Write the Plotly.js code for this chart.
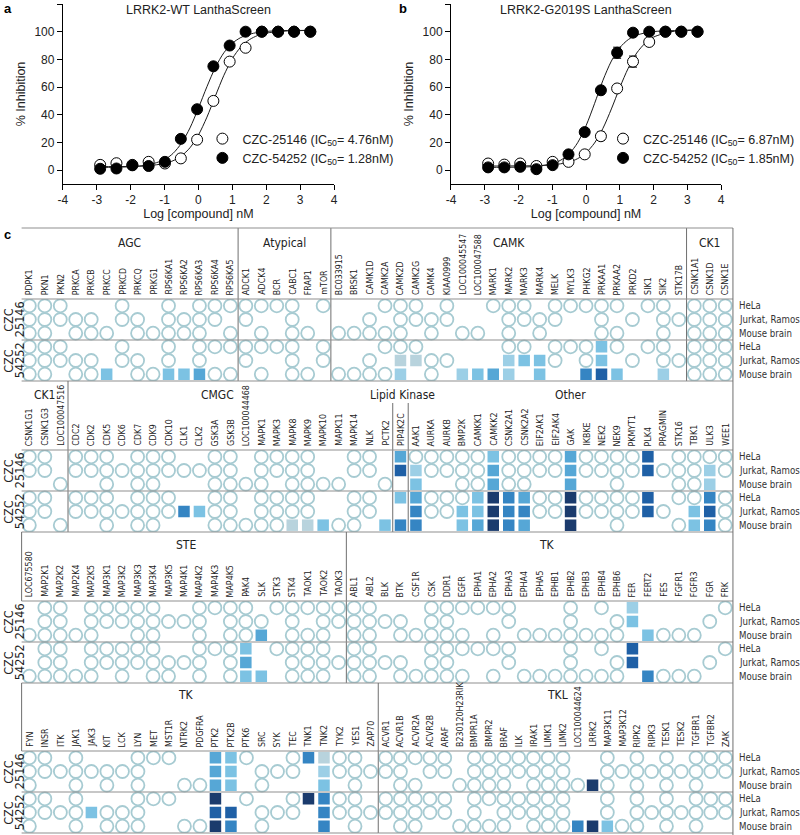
<!DOCTYPE html>
<html><head><meta charset="utf-8">
<script src="https://cdn.plot.ly/plotly-3.0.1.min.js"></script>
<style>body{margin:0;background:#fff;} #chart{width:800px;height:835px;}</style>
</head><body><div id="chart"></div>
<script>
// ---------- Panel a / b : dose response ----------
const logConc = [-2.90,-2.42,-1.95,-1.47,-0.99,-0.52,-0.04,0.44,0.92,1.39,1.87,2.35,2.82,3.30];
const aOpen   = [3.8,5.0,3.8,6.0,4.8,8.5,22,50,78.4,88.4,100,100,100,100];
const aFilled = [1.0,1.2,3.5,3.0,6.0,22.6,44,75,90,100,100,100,100,100];
const bOpen   = [4.8,4.0,4.8,3.0,6.0,6.0,11.4,24.5,59,78.4,92.6,100,100,100];
const bOpenErr   = [0,0,0,0,0,0,0,3,0,4,0,0,0,0];
const bFilled = [2.0,2.0,2.4,0.7,3.6,11.4,27.5,57.7,84.8,99.3,100,100,100,100];
const bFilledErr = [0,0,0,0,0,0,0,0,4,0,0,0,0,0];
const fitX       = [-2.9,-2.5,-2,-1.5,-1,-0.75,-0.5,-0.25,0,0.25,0.5,0.75,1,1.25,1.5,1.75,2,2.5,3,3.3];
const aOpenFit   = [2.5,2.6,2.7,3.2,4.8,6.8,10.3,16.2,25.4,38.3,53.6,68.5,80.6,89.0,94.2,97.3,99.0,100.4,100.8,100.9];
const aFilledFit = [2.0,2.1,2.5,3.7,7.6,12.1,19.5,30.5,44.9,60.3,74.3,84.8,91.7,95.8,98.1,99.5,100.2,100.8,100.9,101];
const bOpenFit   = [3.0,3.0,3.1,3.2,3.8,4.6,5.9,8.3,12.6,19.6,30.2,44.2,59.7,73.7,84.6,91.7,96.1,99.9,101.1,101.3];
const bFilledFit = [2.0,2.1,2.2,2.7,4.7,7.2,11.8,19.8,32.1,48.0,64.9,78.8,88.5,94.3,97.5,99.1,100.1,100.7,100.9,101];
const xTickVals = [-4,-3,-2,-1,0,1,2,3,4];
const xTickText = ['-4','-3','-2','-1','0','1','2','3','4'];
const yTickVals = [0,20,40,60,80,100,120];
const legA = ['CZC-25146 (IC<sub>50</sub>= 4.76nM)','CZC-54252 (IC<sub>50</sub>= 1.28nM)'];
const legB = ['CZC-25146 (IC<sub>50</sub>= 6.87nM)','CZC-54252 (IC<sub>50</sub>= 1.85nM)'];

// ---------- Panel c : kinase selectivity grid ----------
// codes per kinase: 6 rows = [25146 HeLa, 25146 Jurkat, 25146 Mouse, 54252 HeLa, 54252 Jurkat, 54252 Mouse]
// 'o' = open circle, '.' = empty, '1'..'7' = square shade level
const samples = ['HeLa','Jurkat, Ramos','Mouse brain'];
const compoundPrefix = 'CZC';
const compoundIds = ['25146','54252'];

const b1Names = ['PDPK1','PKN1','PKN2','PRKCA','PRKCB','PRKCC','PRKCD','PRKCQ','PRKG1','RPS6KA1','RPS6KA2','RPS6KA3','RPS6KA4','RPS6KA5',
 'ADCK1','ADCK4','BCR','CABC1','FRAP1','mTOR',
 'BC033915','BRSK1','CAMK1D','CAMK2A','CAMK2D','CAMK2G','CAMK4','KIAA0999','LOC100045547','LOC100047588','MARK1','MARK2','MARK3','MARK4','MELK','MYLK3','PHKG2','PRKAA1','PRKAA2','PRKD2','SIK1','SIK2','STK17B',
 'CSNK1A1','CSNK1D','CSNK1E'];
const b1Codes = ['oooooo','oooooo','oo.oo.','.oo.oo','.oo.oo','..o..3','oo.oo.','.oo.oo','..o..o','ooooo3',
 '.oo..3','ooooo4','oo.o.o','o.oo.o','oo.oo.','o.oo.o','o..o..','oooooo','..o..o','o..oo.',
 '..o..o','..o..o','.oo.oo','o.oo.o','oooo12','oo.o1.','.oo.oo','oo..o.','..o..2','..o..3',
 'o....4','oooo22','oo.o3.','.oo.33','oo.oo.','o..o..','o..oo5','ooo336','o.oo.3','.o..o.',
 'o..o..','ooooo2','.o..o.','oooooo','oooooo','oooooo'];
const b1GroupNames = ['AGC','Atypical','CAMK','CK1'];
const b1GroupSizes = [14,6,23,3];

const b2Names = ['CSNK1G1','CSNK1G3','LOC100047516',
 'CDC2','CDK2','CDK5','CDK6','CDK7','CDK9','CDK10','CLK1','CLK2','GSK3A','GSK3B','LOC100044468','MAPK1','MAPK3','MAPK8','MAPK9','MAPK10','MAPK11','MAPK14','NLK','PCTK2',
 'PIP4K2C',
 'AAK1','AURKA','AURKB','BMP2K','CAMKK1','CAMKK2','CSNK2A1','CSNK2A2','EIF2AK1','EIF2AK4','GAK','IKBKE','NEK2','NEK9','PKMYT1','PLK4','PRAGMIN','STK16','TBK1','ULK3','WEE1'];
const b2Codes = ['oo.ooo','oo.oo.','..o..o','oo.oo.','oo.oo.','oooooo','.o..o.','oooooo','oooooo','oo.oo.',
 '.o..5.','.o..3.','oooooo','oooooo','..o..o','oooooo','oo.ooo','ooooo1','ooooo1','..o..3',
 '..o..o','oo.ooo','oo.oo.','..o..3','46.3.5','o23455','oo.oo.','oo.oo.','oooo33','ooo334',
 '344777','ooo555','ooo454','oo.oo.','oo.oo.','444777','oo.oo.','oo.oo.','oooooo','oo.oo.',
 '66.66.','.o..o.','oooo.o','oooo33','o22565','oo.ooo'];
const b2GroupNames = ['CK1','CMGC','Lipid Kinase','Other'];
const b2GroupSizes = [3,21,1,21];

const b3Names = ['LOC675580','MAP2K1','MAP2K2','MAP2K4','MAP2K5','MAP3K1','MAP3K2','MAP3K3','MAP3K4','MAP3K5','MAP4K1','MAP4K2','MAP4K3','MAP4K5','PAK4','SLK','STK3','STK4','TAOK1','TAOK2','TAOK3',
 'ABL1','ABL2','BLK','BTK','CSF1R','CSK','DDR1','EGFR','EPHA1','EPHA2','EPHA3','EPHA4','EPHA5','EPHB1','EPHB2','EPHB3','EPHB4','EPHB6','FER','FERT2','FES','FGFR1','FGFR3','FGR','FRK'];
const b3Codes = ['..o..o','oooooo','oooooo','..o..o','oooooo','oo.oo.','oo.ooo','ooooo.','oooooo','.o..oo',
 '.o..o.','oooooo','o..o..','oooooo','ooo343','.o4..3','o..o..','oooooo','o.oooo','oooooo',
 'oo..o.','oooooo','oooooo','.o..o.','.oo.oo','..o..o','oooooo','oooooo','o.oo.o','o..o..',
 'o.oo.o','oo.oo.','..o..o','..o..o','..o..o','oooooo','..o..o','o.oo.o','.oo.oo','23.66.',
 '..3..5','..o..o','..o..o','..o..o','.o..o.','o..o..'];
const b3GroupNames = ['STE','TK'];
const b3GroupSizes = [21,25];

const b4TkNames = ['FYN','INSR','ITK','JAK1','JAK3','KIT','LCK','LYN','MET','MST1R','NTRK2','PDGFRA','PTK2','PTK2B','PTK6','SRC','SYK','TEC','TNK1','TNK2','TYK2','YES1','ZAP70'];
const b4TkCodes = ['oooooo','oo.oo.','.o..o.','oooooo','.o..3.','.oo.oo','.o..oo','oooooo','o..o..','o..o..',
 '..o..o','..o..o','444767','333.65','o..o..','.oo.oo','.o..o.','oo.oo.','5..7..','123555',
 'oo.oo.','oooooo','.o..o.'];
const b4TklNames = ['ACVR1','ACVR1B','ACVR2A','ACVR2B','ARAF','B230120H23RIK','BMPR1A','BMPR2','BRAF','ILK','IRAK1','LIMK1','LIMK2','LOC100044624','LRRK2','MAP3K11','MAP3K12','RIPK2','RIPK3','TESK1','TESK2','TGFBR1','TGFBR2','ZAK'];
const b4TklCodes = ['oo.oo.','oooooo','o.oooo','oo.oo.','oo.oo.','..o..o','oooooo','oooo.o','oooooo','oo.oo.',
 'oooooo','oooooo','oooooo','..o..5','..7..7','ooooo3','.o...o','oooooo','.o..o.','oooooo',
 '.o..o.','oooooo','oo.oo.','oo.oo.'];

const levelColors = {'1':'#b8d3dd','2':'#9ccfe6','3':'#7cc2e3','4':'#56a7d6','5':'#3585c3','6':'#1f60a6','7':'#1b3b6d'};
const circleColor = '#a7cbd2';

// ---------- build ----------
const W = 800, H = 835;
const px = x => x / W, py = y => 1 - y / H;
const FONT = 'Liberation Sans, Arial, Helvetica, sans-serif';
const NARROW = 'Liberation Sans Narrow, Arial Narrow, DejaVu Sans Condensed, sans-serif';
const traces = [];
const annotations = [];
const shapes = [];

function curve(x, y, xa, ya) {
  return {x, y, mode:'lines', line:{color:'#1a1a1a', width:1, shape:'spline', smoothing:0.8}, xaxis:xa, yaxis:ya, showlegend:false, hoverinfo:'skip'};
}
function pts(x, y, xa, ya, name, filled, leg, err) {
  const t = {x, y, mode:'markers', name, xaxis:xa, yaxis:ya, legend:leg,
    marker:{symbol:'circle', size:11, color: filled ? '#000' : '#fff', line:{color:'#000', width:1}}};
  if (err) t.error_y = {type:'data', array:err, visible:true, color:'#000', thickness:1, width:4};
  return t;
}
traces.push(curve(fitX, aOpenFit, 'x', 'y'));
traces.push(curve(fitX, aFilledFit, 'x', 'y'));
traces.push(pts(logConc, aOpen, 'x', 'y', legA[0], false, 'legend'));
traces.push(pts(logConc, aFilled, 'x', 'y', legA[1], true, 'legend'));
traces.push(curve(fitX, bOpenFit, 'x2', 'y2'));
traces.push(curve(fitX, bFilledFit, 'x2', 'y2'));
traces.push(pts(logConc, bOpen, 'x2', 'y2', legB[0], false, 'legend2', bOpenErr));
traces.push(pts(logConc, bFilled, 'x2', 'y2', legB[1], true, 'legend2', bFilledErr));

const layout = {
  width: W, height: H, margin:{l:0, r:0, t:0, b:0}, paper_bgcolor:'#fff', plot_bgcolor:'rgba(0,0,0,0)',
  font:{family:FONT, color:'#222', size:12}, hovermode:false,
};
function doseAxes(xd, yd) {
  return [{domain:xd, range:[-4,4], tickvals:xTickVals, ticktext:xTickText, ticks:'outside', ticklen:5, tickcolor:'#000',
           showline:true, linecolor:'#000', linewidth:1, showgrid:false, zeroline:false, fixedrange:true,
           tickfont:{size:12, color:'#222'}, title:{text:'Log [compound] nM', font:{size:12.5, color:'#222'}, standoff:2}},
          {domain:yd, range:[-10,120], tickvals:yTickVals, ticks:'outside', ticklen:5, tickcolor:'#000',
           showline:true, linecolor:'#000', linewidth:1, showgrid:false, zeroline:false, fixedrange:true,
           tickfont:{size:12, color:'#222'}, title:{text:'% Inhibition', font:{size:12.5, color:'#222'}, standoff:6}}];
}
let ax = doseAxes([px(64), px(340)], [py(184), py(4)]);
layout.xaxis = Object.assign(ax[0], {anchor:'y'}); layout.yaxis = Object.assign(ax[1], {anchor:'x'});
ax = doseAxes([px(459), px(734)], [py(184), py(4)]);
layout.xaxis2 = Object.assign(ax[0], {anchor:'y2'}); layout.yaxis2 = Object.assign(ax[1], {anchor:'x2'});
const legStyle = {bgcolor:'rgba(0,0,0,0)', font:{size:12.5, color:'#222'}, xanchor:'left', yanchor:'top', itemwidth:30, tracegroupgap:0};
layout.legend = Object.assign({x:px(206), y:py(124)}, legStyle);
layout.legend2 = Object.assign({x:px(614), y:py(124)}, legStyle);

function ann(text, x, y, opts) {
  annotations.push(Object.assign({text, x:px(x), y:py(y), xref:'paper', yref:'paper', xanchor:'center', yanchor:'middle', showarrow:false}, opts || {}));
}
ann('LRRK2-WT LanthaScreen', 202, 10, {font:{size:12.5}});
ann('LRRK2-G2019S LanthaScreen', 596, 10, {font:{size:12.5}});
ann('<b>a</b>', 2, 8, {xanchor:'left', font:{size:13, color:'#000'}});
ann('<b>b</b>', 404, 8, {xanchor:'left', font:{size:13, color:'#000'}});
ann('<b>c</b>', 2, 234, {xanchor:'left', font:{size:13, color:'#000'}});

const gridPanels = [
  {names:b1Names, codes:b1Codes, gNames:b1GroupNames, gSizes:b1GroupSizes, x0:22, x1:746, top:228, gTop:299, gBot:381, gLabelY:243, right:true, comp:true},
  {names:b2Names, codes:b2Codes, gNames:b2GroupNames, gSizes:b2GroupSizes, x0:22, x1:746, top:381, gTop:450, gBot:532, gLabelY:395, right:true, comp:true, divTop:{24:403, 25:403}, labelPx:[null, 221, 410, null]},
  {names:b3Names, codes:b3Codes, gNames:b3GroupNames, gSizes:b3GroupSizes, x0:22, x1:746, top:532, gTop:601, gBot:683, gLabelY:545, right:true, comp:true, left:true, labelPx:[189, 557]},
  {names:b4TkNames, codes:b4TkCodes, gNames:['TK'], gSizes:[23], x0:22, x1:385, top:683, gTop:751, gBot:833, gLabelY:695, comp:true, left:true, labelPx:[189]},
  {names:b4TklNames, codes:b4TklCodes, gNames:['TKL'], gSizes:[24], x0:385, x1:746, top:683, gTop:751, gBot:833, gLabelY:695, right:true, left:true, labelPx:[567]},
];
const LINE = '#8f8f8f', DIV = '#6f6f6f';
function hline(y, x0, x1, c) { shapes.push({type:'line', xref:'paper', yref:'paper', x0:px(x0), x1:px(x1), y0:py(y), y1:py(y), line:{color:c||LINE, width:1}}); }
function vline(x, y0, y1, c) { shapes.push({type:'line', xref:'paper', yref:'paper', x0:px(x), x1:px(x), y0:py(y0), y1:py(y1), line:{color:c||DIV, width:1}}); }

gridPanels.forEach((p, k) => {
  const n = p.names.length, idx = k + 3;
  const xa = 'x' + idx, ya = 'y' + idx;
  const colW = (p.x1 - p.x0) / n;
  layout['xaxis' + idx] = {domain:[px(p.x0), px(p.x1)], range:[-0.5, n - 0.5], visible:false, fixedrange:true, anchor:ya};
  layout['yaxis' + idx] = {domain:[py(p.gBot), py(p.gTop)], range:[5.5, -0.5], visible:false, fixedrange:true, anchor:xa};
  const cx = [], cy = [], sx = [], sy = [], sc = [];
  p.codes.forEach((code, i) => {
    for (let r = 0; r < 6; r++) {
      const ch = code[r];
      if (ch === 'o') { cx.push(i); cy.push(r); }
      else if (levelColors[ch]) { sx.push(i); sy.push(r); sc.push(levelColors[ch]); }
    }
  });
  traces.push({x:cx, y:cy, xaxis:xa, yaxis:ya, mode:'markers', showlegend:false, hoverinfo:'skip',
    marker:{symbol:'circle-open', size:13, color:circleColor, line:{color:circleColor, width:1.8}}});
  traces.push({x:sx, y:sy, xaxis:xa, yaxis:ya, mode:'markers', showlegend:false, hoverinfo:'skip',
    marker:{symbol:'square', size:11.5, color:sc, line:{width:0}}});
  // kinase labels
  p.names.forEach((nm, i) => {
    annotations.push({text:nm, x:i, xref:xa, y:py(p.gTop - 2), yref:'paper', xanchor:'center', yanchor:'bottom',
      textangle:-90, showarrow:false, font:{family:NARROW, size:8.8, color:'#222'}});
  });
  // group labels and dividers
  let start = 0;
  p.gNames.forEach((g, j) => {
    const size = p.gSizes[j];
    const cxp = (p.labelPx && p.labelPx[j] != null) ? p.labelPx[j] : p.x0 + (start + size / 2) * colW;
    ann(g, cxp, p.gLabelY, {font:{family:NARROW, size:12, color:'#222'}});
    start += size;
    if (j < p.gNames.length - 1) {
      const t = (p.divTop && p.divTop[start] != null) ? p.divTop[start] : p.top;
      vline(p.x0 + start * colW, t, p.gBot);
    }
  });
  if (p.divTop) {
    Object.keys(p.divTop).forEach(b => {
      const bi = +b; let s = 0, isG = false;
      p.gSizes.forEach(z => { s += z; if (s === bi) isG = true; });
      if (!isG) vline(p.x0 + bi * colW, p.divTop[b], p.gBot);
    });
  }
  if (p.left) vline(p.x0, p.top, p.x0 === 22 ? p.gTop : p.gBot);
  // horizontal grid lines
  const mid = (p.gTop + p.gBot) / 2;
  hline(p.gTop, p.x0, p.x1); hline(mid, p.x0, p.x1); hline(p.gBot, p.x0, p.x1);
  // right labels
  if (p.right) {
    for (let r = 0; r < 6; r++) {
      annotations.push({text:samples[r % 3], x:px(750), xref:'paper', y:r, yref:ya, xanchor:'left', yanchor:'middle', showarrow:false, font:{family:NARROW, size:9.6, color:'#333'}});
    }
  }
  if (p.comp) {
    const centers = [(p.gTop + mid) / 2, (mid + p.gBot) / 2];
    centers.forEach((cy0, c) => {
      ann(compoundPrefix, 8.5, cy0, {textangle:-90, font:{family:NARROW, size:12.5, color:'#222'}});
      ann(compoundIds[c], 20, cy0, {textangle:-90, font:{family:NARROW, size:12.5, color:'#222'}});
    });
  }
});
hline(228, 22, 746);
vline(746, 228, 835, DIV);

layout.annotations = annotations;
layout.shapes = shapes;
Plotly.newPlot('chart', traces, layout, {displayModeBar:false, staticPlot:true});
</script></body></html>
